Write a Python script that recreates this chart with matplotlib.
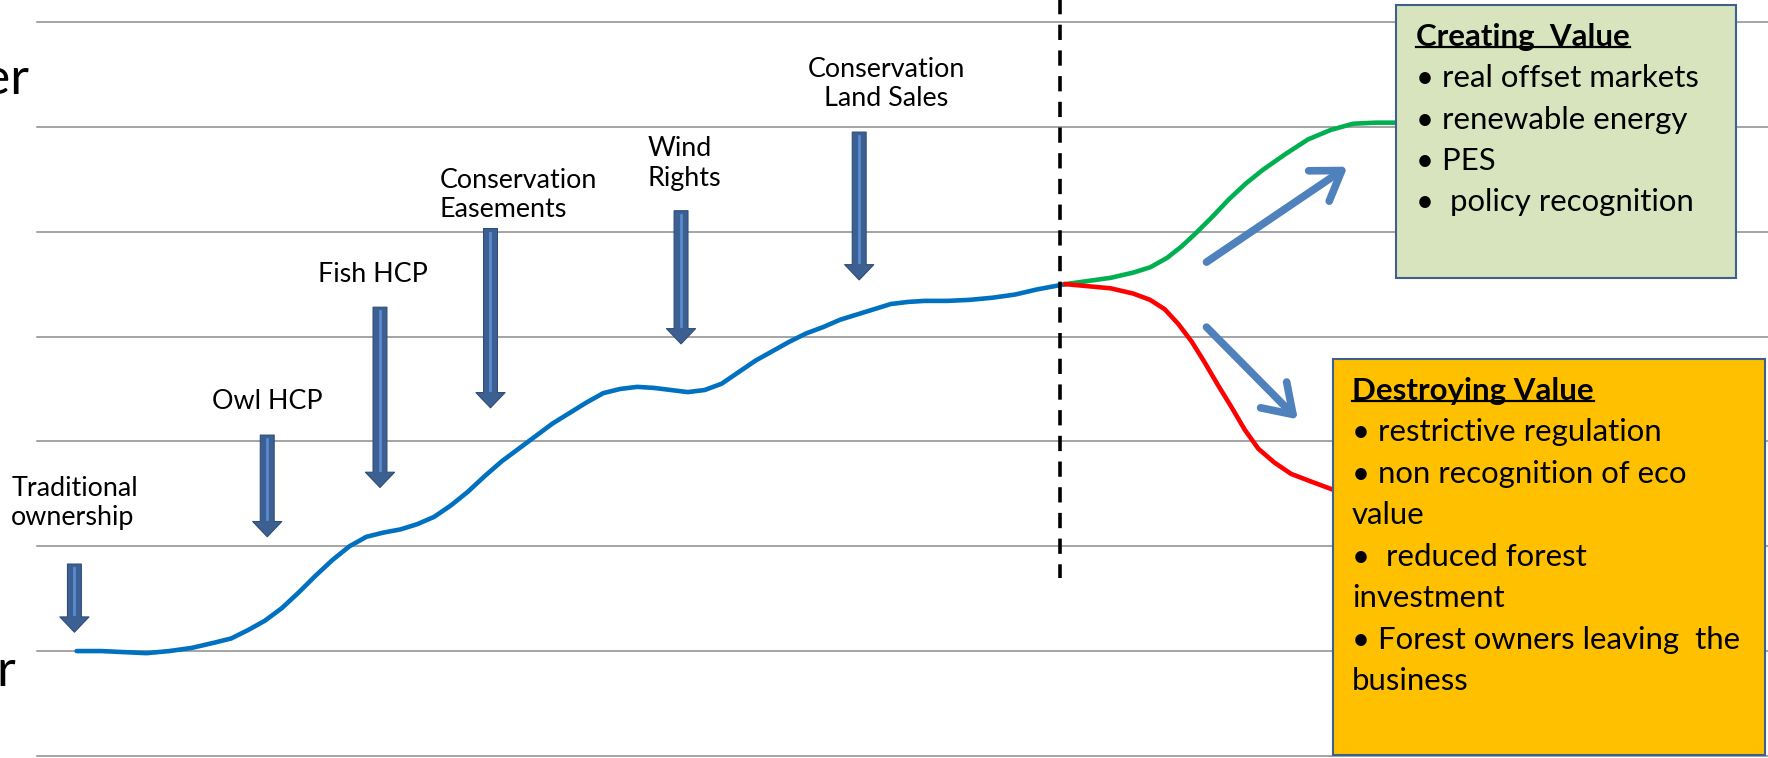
import matplotlib
matplotlib.use('Agg')
import matplotlib.pyplot as plt
from matplotlib.lines import Line2D
from matplotlib.patches import Rectangle

plt.rcParams['font.family'] = ['Lato', 'DejaVu Sans']
plt.rcParams['lines.scale_dashes'] = False

# value history up to today (time units, value units)
hist_t = [68, 90, 110, 130, 150, 170, 190, 205, 220, 235, 250, 265, 280, 295,
          310, 325, 340, 355, 370, 385, 400, 415, 430, 445, 460, 475, 490, 505,
          520, 535, 550, 565, 580, 595, 610, 625, 640, 655, 670, 685, 700, 715,
          730, 745, 760, 775, 790, 805, 820, 840, 860, 880, 900, 920, 945]
hist_v = [1.00, 1.00, 0.99, 0.98, 1.00, 1.03, 1.08, 1.12, 1.20, 1.29, 1.41, 1.56,
          1.72, 1.87, 2.00, 2.09, 2.13, 2.16, 2.21, 2.28, 2.39, 2.52, 2.67, 2.81,
          2.93, 3.05, 3.17, 3.27, 3.37, 3.46, 3.50, 3.52, 3.51, 3.49, 3.47, 3.49,
          3.55, 3.66, 3.77, 3.86, 3.95, 4.03, 4.09, 4.16, 4.21, 4.26, 4.31, 4.33,
          4.34, 4.34, 4.35, 4.37, 4.40, 4.45, 4.50]

# future paths
up_t = [945, 965, 985, 1005, 1020, 1035, 1048, 1060, 1075, 1090, 1105, 1120,
        1140, 1160, 1180, 1200, 1220, 1240]
up_v = [4.50, 4.53, 4.56, 4.61, 4.66, 4.75, 4.86, 4.98, 5.14, 5.31, 5.46, 5.59,
        5.74, 5.88, 5.97, 6.03, 6.04, 6.04]
down_t = [945, 965, 985, 1005, 1020, 1033, 1045, 1057, 1068, 1080, 1092, 1104,
          1116, 1130, 1145, 1162, 1182]
down_v = [4.50, 4.48, 4.46, 4.41, 4.35, 4.26, 4.12, 3.95, 3.76, 3.54, 3.33, 3.11,
          2.93, 2.80, 2.69, 2.62, 2.54]

today_t = 940

# milestones: label, time, arrow top, arrow tip
events = ['Traditional\nownership', 'Owl HCP', 'Fish HCP',
          'Conservation\nEasements', 'Wind\nRights', 'Conservation\nLand Sales']
event_t = [66, 237, 337, 435, 604, 762]
event_top = [1.83, 3.06, 4.28, 5.03, 5.20, 5.95]
event_tip = [1.18, 2.09, 2.56, 3.32, 3.93, 4.54]

creating_title = 'Creating  Value'
creating_items = ['• real offset markets', '• renewable energy', '• PES',
                  '•  policy recognition']
destroying_title = 'Destroying Value'
destroying_items = ['• restrictive regulation', '• non recognition of eco', 'value',
                    '•  reduced forest', 'investment',
                    '• Forest owners leaving  the', 'business']

fig = plt.figure(figsize=(17.68, 7.58), dpi=100)
ax = fig.add_axes([0, 0, 1, 1])
ax.set_xlim(0, 1568)
ax.set_ylim(-0.02, 7.21)
ax.axis('off')

for g in range(8):
    ax.plot([33, 1568], [g, g], color='#8c8c8c', lw=1.1, zorder=1)

# cut-off axis words on the left
ax.text(26, 6.45, 'Higher', ha='right', va='center', fontsize=37, color='black')
ax.text(14, 0.80, 'Lower', ha='right', va='center', fontsize=37, color='black')

ax.plot(hist_t, hist_v, color='#0070C0', lw=3.3, solid_capstyle='round',
        solid_joinstyle='round', zorder=3)
ax.plot(up_t, up_v, color='#00B050', lw=3.3, solid_joinstyle='round', zorder=3)
ax.plot(down_t, down_v, color='#FF0000', lw=3.3, solid_joinstyle='round', zorder=3)
ax.plot([today_t, today_t], [7.25, 1.70], color='black', lw=2.6,
        linestyle=(0, (11, 7.5)), zorder=4)

# milestone arrows
for lab, t, top, tip in zip(events, event_t, event_top, event_tip):
    ax.annotate('', xy=(t, tip), xytext=(t, top), zorder=4,
                arrowprops=dict(arrowstyle='simple,head_length=1.1,head_width=2.1,tail_width=1.0',
                                mutation_scale=10, fc='#3D6093', ec='#2E4D78', lw=0.8,
                                shrinkA=0, shrinkB=0))
    ax.plot([t, t], [top - 0.04, tip + 0.17], color='#5A8AD0', lw=2.0, zorder=5)

label_pos = [(10, 2.41, 'left'), (237, 3.38, 'center'), (331, 4.59, 'center'),
             (390, 5.35, 'left'), (574, 5.65, 'left'), (786, 6.41, 'center')]
for lab, (x, y, ha) in zip(events, label_pos):
    ax.text(x, y, lab, ha=ha, va='center', fontsize=19.4, linespacing=1.22, zorder=6)

# trend arrows
trend = dict(arrowstyle='->,head_length=0.9,head_width=0.6', mutation_scale=22,
             color='#4F81BD', lw=5.5, shrinkA=0, shrinkB=0)
ax.annotate('', xy=(1195, 5.62), xytext=(1070, 4.71), arrowprops=trend, zorder=4)
ax.annotate('', xy=(1151, 3.21), xytext=(1070, 4.09), arrowprops=trend, zorder=4)

# scenario boxes
ax.add_patch(Rectangle((1238, 4.56), 302, 2.60, fc='#D7E4BD', ec='#3F5F8F',
                       lw=1.5, zorder=7))
ax.add_patch(Rectangle((1182, 0.01), 383, 3.78, fc='#FFC000', ec='#3F5F8F',
                       lw=1.5, zorder=7))

step = 0.395
t1 = ax.text(1256, 6.86, creating_title, fontsize=22.5, fontweight='bold',
             va='center', zorder=8)
for i, s in enumerate(creating_items):
    ax.text(1256, 6.86 - (i + 1) * step, s, fontsize=22.4, va='center', zorder=8)
t2 = ax.text(1199, 3.48, destroying_title, fontsize=22.5, fontweight='bold',
             va='center', zorder=8)
for i, s in enumerate(destroying_items):
    ax.text(1199, 3.48 - (i + 1) * step, s, fontsize=22.4, va='center', zorder=8)

# underline the box titles
fig.canvas.draw()
inv = fig.transFigure.inverted()
for t in (t1, t2):
    bb = t.get_window_extent()
    (x0, y0), (x1, _) = inv.transform([[bb.x0, bb.y0 + 0.14 * bb.height],
                                       [bb.x1, bb.y1]])
    fig.add_artist(Line2D([x0, x1], [y0, y0], color='black', lw=1.6, zorder=9))

fig.savefig('out.png', dpi=100)
